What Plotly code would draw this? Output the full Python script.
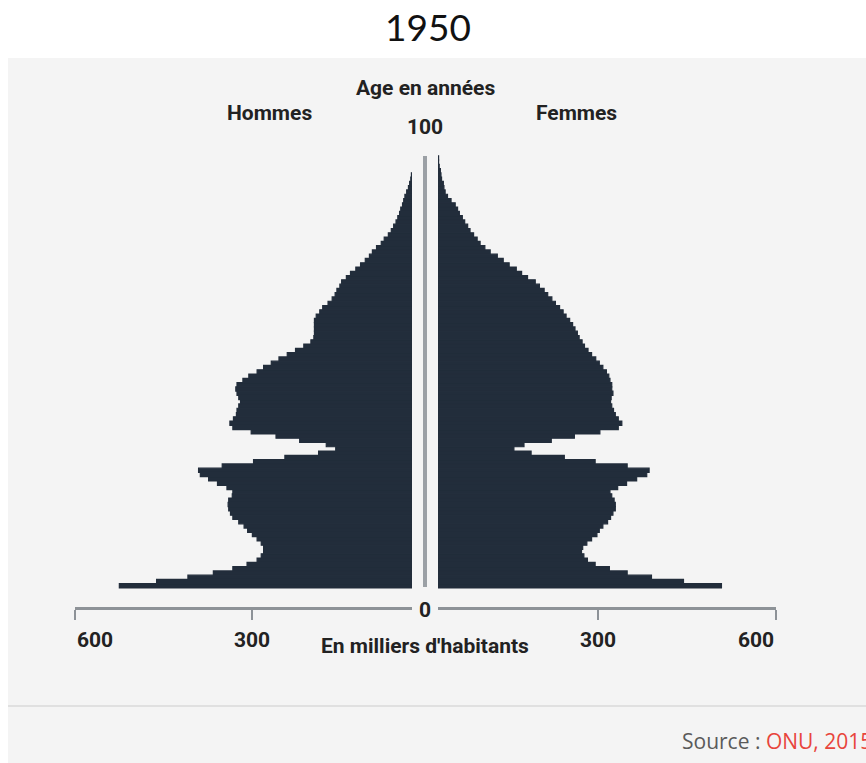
import plotly.graph_objects as go

# ---------------- data ----------------
AGES = list(range(0, 101))

HOMMES = [525, 462, 409, 366, 333, 309, 292, 285, 281, 281,
          285, 292, 300, 308, 314, 323, 333, 337, 340, 341,
          340, 334, 333, 343, 359, 374, 388, 391, 351, 298,
          245, 188, 159, 175, 220, 260, 302, 333, 338, 332,
          327, 326, 323, 320, 323, 326, 328, 326, 316, 306,
          292, 281, 268, 255, 241, 227, 213, 201, 196, 195,
          195, 195, 195, 192, 186, 181, 172, 165, 160, 157,
          152, 149, 141, 134, 125, 117, 109, 102, 97, 90,
          82, 77, 70, 65, 61, 57, 54, 51, 49, 46,
          44, 42, 39, 36, 34, 32, 31, 26, 21, 17,
          12]

FEMMES = [508, 444, 390, 349, 319, 295, 282, 276, 272, 274,
          281, 289, 298, 302, 308, 316, 321, 325, 329, 329,
          327, 323, 320, 333, 348, 365, 382, 386, 349, 295,
          243, 187, 158, 175, 221, 260, 303, 334, 340, 334,
          329, 326, 323, 321, 322, 325, 323, 323, 320, 318,
          314, 308, 302, 296, 289, 283, 277, 273, 268, 265,
          261, 257, 252, 246, 241, 235, 228, 222, 215, 209,
          201, 194, 181, 171, 162, 150, 140, 130, 118, 109,
          101, 96, 90, 84, 80, 75, 71, 66, 63, 59,
          52, 46, 42, 40, 39, 36, 35, 34, 32, 31,
          31]

TICK_VALUES = [300, 600]
TICK_LABELS = ["300", "600"]
AGE_TOP_LABEL = "100"
AGE_BOTTOM_LABEL = "0"
TITLE = "1950"
LABEL_HOMMES = "Hommes"
LABEL_FEMMES = "Femmes"
LABEL_AGE = "Age en années"
LABEL_UNIT = "En milliers d'habitants"
SOURCE_PREFIX = "Source : "
SOURCE_NAME = "ONU, 2015"

# ---------------- styling ----------------
W, H = 866, 763
BAR = "#222d3b"
AXIS = "#8d9297"
PANEL = "#f4f4f4"
TEXT = "#222222"
BOLDFONT = "Roboto, Liberation Sans Narrow, DejaVu Sans Condensed, sans-serif"
BOLDSIZE = 21


def px(x):
    return x / W


def py(y):
    return 1 - y / H


X_MIN = 30      # value at inner edge of each half
X_MAX = 600
Y_RANGE = [-4.94, 101.84]

fig = go.Figure()
fig.add_trace(go.Bar(
    y=AGES, x=HOMMES, orientation="h", xaxis="x", yaxis="y",
    width=1, marker=dict(color=BAR, line=dict(width=1.2, color=BAR)),
    name=LABEL_HOMMES, showlegend=False,
))
fig.add_trace(go.Bar(
    y=AGES, x=FEMMES, orientation="h", xaxis="x2", yaxis="y2",
    width=1, marker=dict(color=BAR, line=dict(width=1.2, color=BAR)),
    name=LABEL_FEMMES, showlegend=False,
))

common_x = dict(
    tickvals=TICK_VALUES, ticks="outside", ticklen=10, tickwidth=2,
    tickcolor=AXIS, showline=True, linecolor=AXIS, linewidth=3,
    showticklabels=False, showgrid=False, zeroline=False, fixedrange=True,
)
common_y = dict(range=Y_RANGE, domain=[py(607), py(150)], visible=False,
                showgrid=False, zeroline=False, fixedrange=True)

fig.update_layout(
    width=W, height=H,
    margin=dict(l=0, r=0, t=0, b=0, pad=0),
    paper_bgcolor="white", plot_bgcolor="rgba(0,0,0,0)",
    bargap=0, barmode="overlay",
    xaxis=dict(domain=[px(75), px(412)], range=[X_MAX, X_MIN], anchor="y", **common_x),
    xaxis2=dict(domain=[px(438), px(776)], range=[X_MIN, X_MAX], anchor="y2", **common_x),
    yaxis=dict(anchor="x", **common_y),
    yaxis2=dict(anchor="x2", matches="y", **common_y),
)

shapes = [
    dict(type="rect", xref="paper", yref="paper", x0=px(8), x1=1, y0=0, y1=py(58),
         fillcolor=PANEL, line=dict(width=0), layer="below"),
    dict(type="line", xref="paper", yref="paper", x0=px(8), x1=1, y0=py(706), y1=py(706),
         line=dict(color="#e0e0e0", width=2)),
    dict(type="rect", xref="paper", yref="paper", x0=px(423), x1=px(427), y0=py(587), y1=py(156),
         fillcolor="#9ba0a5", line=dict(width=0)),
]
fig.update_layout(shapes=shapes)

ann = []


def label(text, x, y, size=BOLDSIZE, xanchor="center", xref="paper"):
    ann.append(dict(text="<b>%s</b>" % text, x=x, y=py(y), xref=xref, yref="paper",
                    xanchor=xanchor, yanchor="middle", showarrow=False,
                    font=dict(family=BOLDFONT, size=size, color=TEXT)))


# tick labels placed with the axes' own scales
for v, t in zip(TICK_VALUES, TICK_LABELS):
    label(t, v, 640, xanchor="left" if v == X_MAX else "center", xref="x")
    label(t, v, 640, xanchor="right" if v == X_MAX else "center", xref="x2")

label(LABEL_AGE, px(425), 88)
label(AGE_TOP_LABEL, px(425), 127)
label(LABEL_HOMMES, px(269), 113)
label(LABEL_FEMMES, px(576), 113)
label(AGE_BOTTOM_LABEL, px(425), 610)
label(LABEL_UNIT, px(425), 646)

ann.append(dict(text=TITLE, x=px(428), y=py(27), xref="paper", yref="paper",
                xanchor="center", yanchor="middle", showarrow=False,
                font=dict(family="Lato, Open Sans, sans-serif", size=37, color="#111111")))
ann.append(dict(text=SOURCE_PREFIX + "<span style='color:#e8453c'>%s</span>" % SOURCE_NAME,
                x=px(680), y=py(741), xref="paper", yref="paper",
                xanchor="left", yanchor="middle", showarrow=False,
                font=dict(family="Open Sans, sans-serif", size=21, color="#5a5a5a")))

fig.update_layout(annotations=ann)

# remove the default page margin so the figure fills the window exactly
fig.write_html("out.html",
               config={"displayModeBar": False, "staticPlot": True},
               post_script="document.body.style.margin='0';document.body.style.overflow='hidden';")
